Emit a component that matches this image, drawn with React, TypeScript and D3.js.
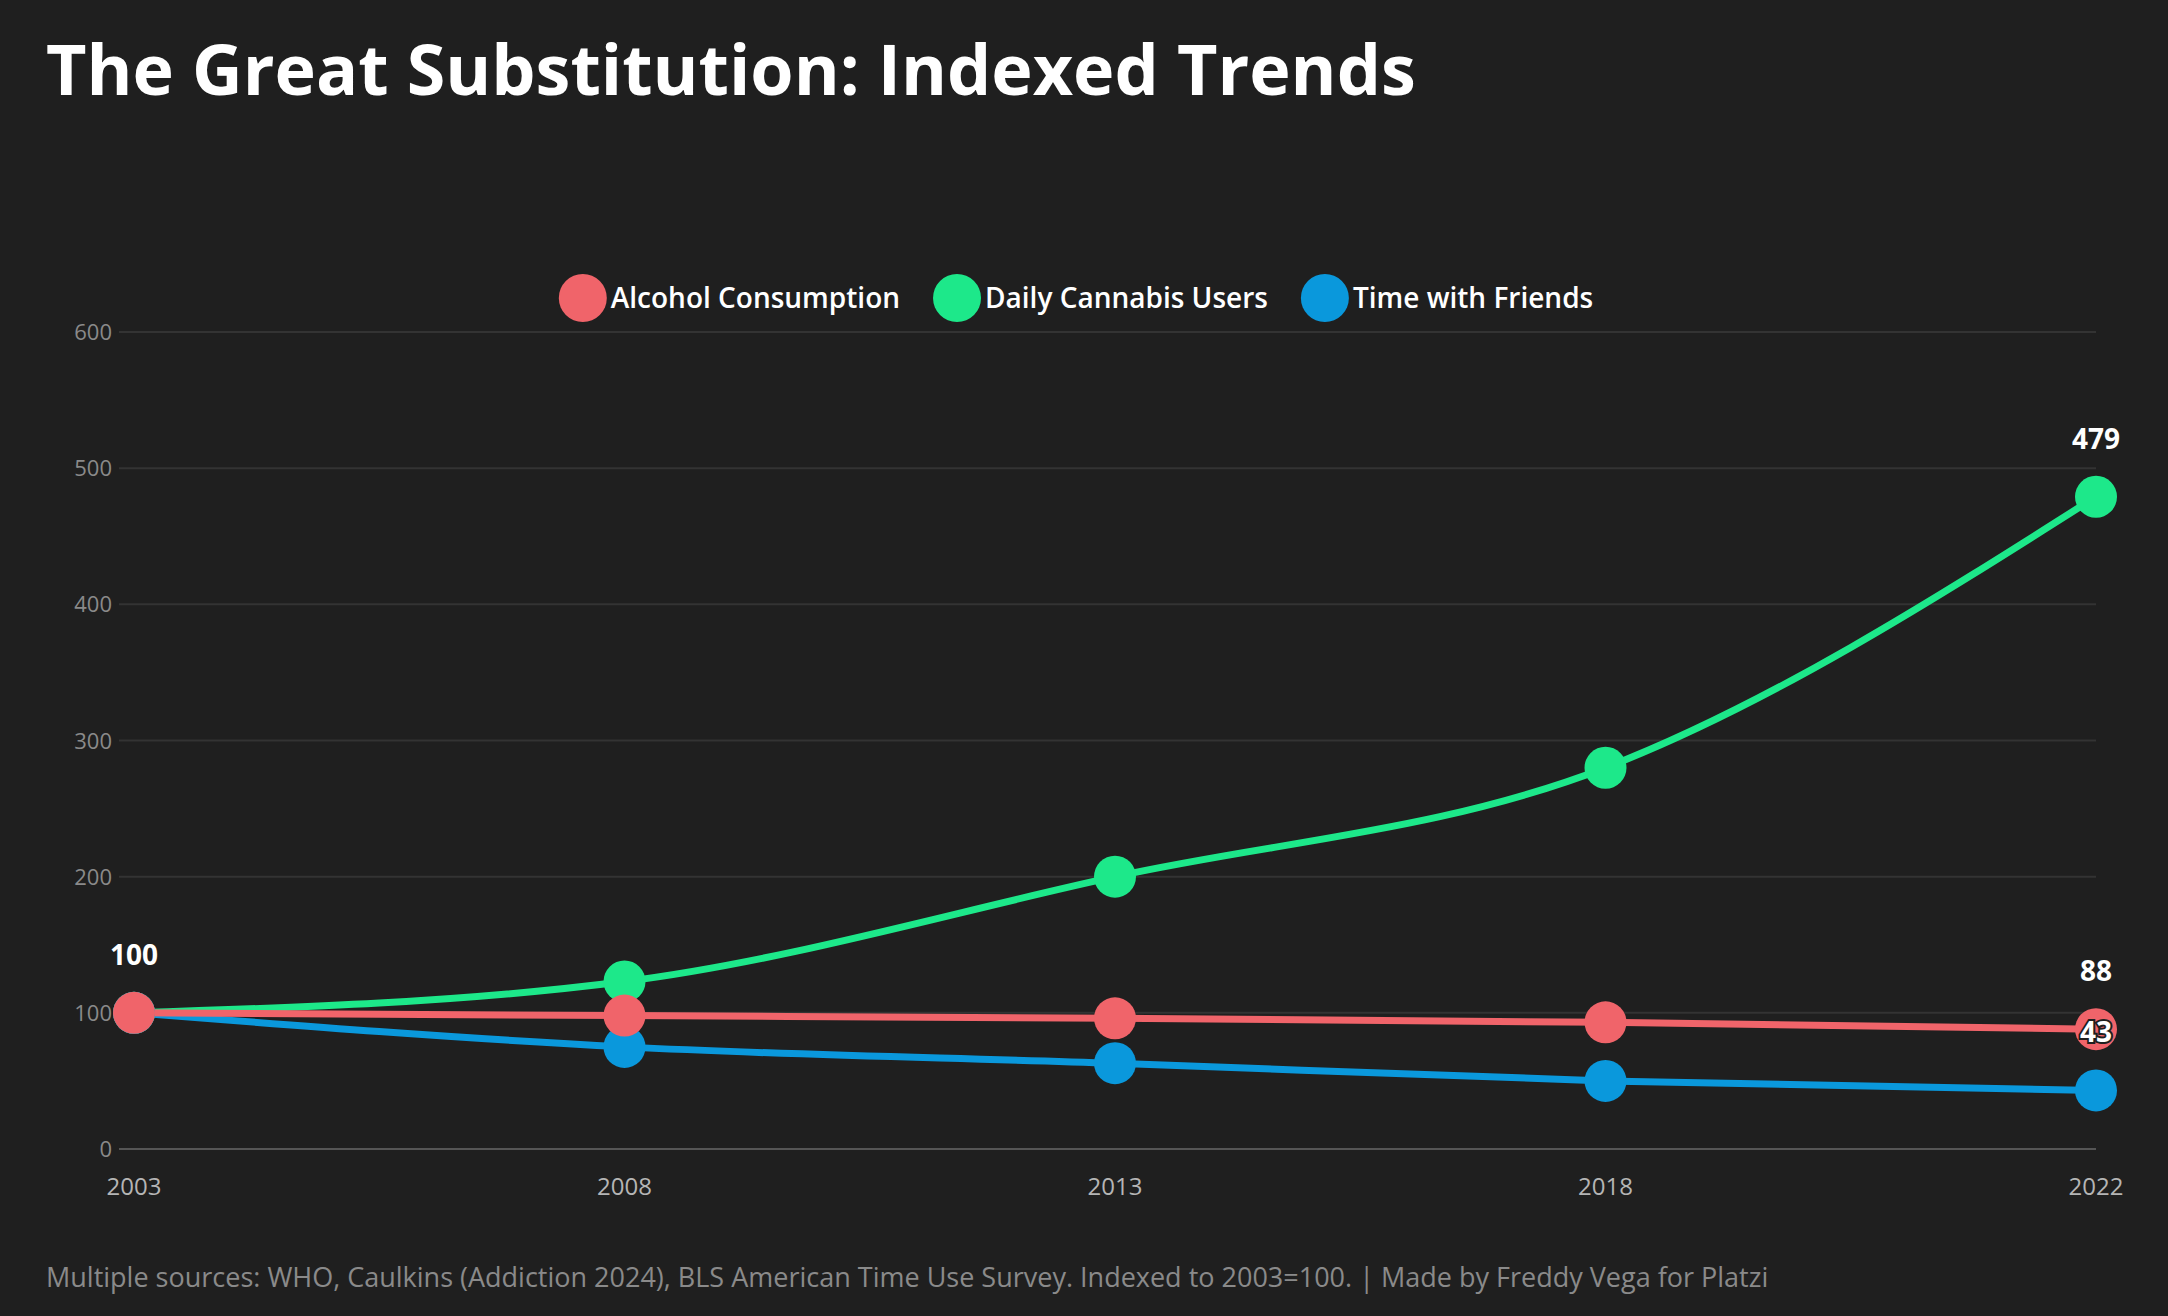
import * as d3 from "d3";
import { useRef, useEffect } from "react";

const years = ["2003", "2008", "2013", "2018", "2022"];
const alcohol = [100, 98, 96, 93, 88];
const cannabis = [100, 123, 200, 280, 479];
const friends = [100, 75, 63, 50, 43];
const seriesNames = ["Alcohol Consumption", "Daily Cannabis Users", "Time with Friends"];
const seriesColors = ["#f0646a", "#1de88a", "#0a98dc"];
const yTicks = [0, 100, 200, 300, 400, 500, 600];

const W = 2168;
const H = 1316;
const BG = "#1f1f1f";
const FONT = "'Open Sans', 'Noto Sans', sans-serif";

export default function App() {
  const ref = useRef<HTMLDivElement | null>(null);

  useEffect(() => {
    document.body.style.margin = "0";
    document.body.style.background = BG;
    d3.select(ref.current).selectAll("svg").remove();

    const svg = d3.select(ref.current).append("svg")
      .attr("width", W)
      .attr("height", H)
      .style("display", "block")
      .style("font-family", FONT);

    svg.append("rect").attr("width", W).attr("height", H).attr("fill", BG);

    const left = 119, right = 2096, top = 332, bottom = 1149;

    const x = d3.scalePoint<string>().domain(years).range([134, right]);
    const y = d3.scaleLinear().domain([0, 600]).range([bottom, top]);

    // title
    svg.append("text")
      .attr("x", 46).attr("y", 95)
      .attr("fill", "#ffffff")
      .attr("font-size", 70)
      .attr("font-weight", 700)
      .text("The Great Substitution: Indexed Trends");

    // grid
    const grid = svg.append("g");
    grid.selectAll("line")
      .data(yTicks)
      .join("line")
      .attr("x1", left).attr("x2", right)
      .attr("y1", d => y(d)).attr("y2", d => y(d))
      .attr("stroke", d => d === 0 ? "#555" : "#333")
      .attr("stroke-width", 2);

    grid.selectAll("text")
      .data(yTicks)
      .join("text")
      .attr("x", 112).attr("y", d => y(d) + 8)
      .attr("text-anchor", "end")
      .attr("fill", "#8a8a8a")
      .attr("font-size", 22)
      .text(d => d);

    // x axis labels
    svg.append("g").selectAll("text")
      .data(years)
      .join("text")
      .attr("x", d => x(d)!).attr("y", 1195)
      .attr("text-anchor", "middle")
      .attr("fill", "#b5b5b5")
      .attr("font-size", 24)
      .text(d => d);

    const data = [alcohol, cannabis, friends];
    const drawOrder = [1, 2, 0];

    const line = d3.line<number>()
      .x((_, i) => x(years[i])!)
      .y(d => y(d))
      .curve(d3.curveMonotoneX);

    drawOrder.forEach(k => {
      svg.append("path")
        .attr("d", line(data[k]))
        .attr("fill", "none")
        .attr("stroke", seriesColors[k])
        .attr("stroke-width", 7);
    });

    drawOrder.forEach(k => {
      svg.append("g").selectAll("circle")
        .data(data[k])
        .join("circle")
        .attr("cx", (_, i) => x(years[i])!)
        .attr("cy", d => y(d))
        .attr("r", 21)
        .attr("fill", seriesColors[k]);
    });

    // value labels on first and last points
    const labels: { k: number; i: number }[] = [];
    drawOrder.forEach(k => {
      labels.push({ k, i: 0 });
      labels.push({ k, i: years.length - 1 });
    });
    svg.append("g").selectAll("text")
      .data(labels)
      .join("text")
      .attr("x", d => x(years[d.i])!)
      .attr("y", d => y(data[d.k][d.i]) - 48)
      .attr("text-anchor", "middle")
      .attr("fill", "#ffffff")
      .attr("stroke", BG)
      .attr("stroke-width", 4)
      .attr("paint-order", "stroke")
      .attr("font-size", 28)
      .attr("font-weight", 700)
      .text(d => data[d.k][d.i]);

    // legend
    const legend = svg.append("g");
    const items = legend.selectAll("g")
      .data(seriesNames)
      .join("g");
    items.append("circle")
      .attr("r", 24)
      .attr("fill", (_, i) => seriesColors[i]);
    items.append("text")
      .attr("x", 28).attr("y", 10)
      .attr("fill", "#ffffff")
      .attr("font-size", 28)
      .attr("font-weight", 600)
      .text(d => d);
    const widths: number[] = [];
    items.select("text").each(function () {
      widths.push((this as SVGTextElement).getComputedTextLength());
    });
    const gap = 33;
    const itemW = widths.map(w => 24 + 28 + w);
    const total = d3.sum(itemW) + gap * (itemW.length - 1);
    let cx = 1076 - total / 2 + 24;
    items.attr("transform", (_, i) => {
      const t = `translate(${cx},298)`;
      cx += itemW[i] + gap;
      return t;
    });

    // footer
    svg.append("text")
      .attr("x", 46).attr("y", 1287)
      .attr("fill", "#8a8a8a")
      .attr("font-size", 27)
      .text("Multiple sources: WHO, Caulkins (Addiction 2024), BLS American Time Use Survey. Indexed to 2003=100. | Made by Freddy Vega for Platzi");
  }, []);

  return <div ref={ref}></div>;
}
